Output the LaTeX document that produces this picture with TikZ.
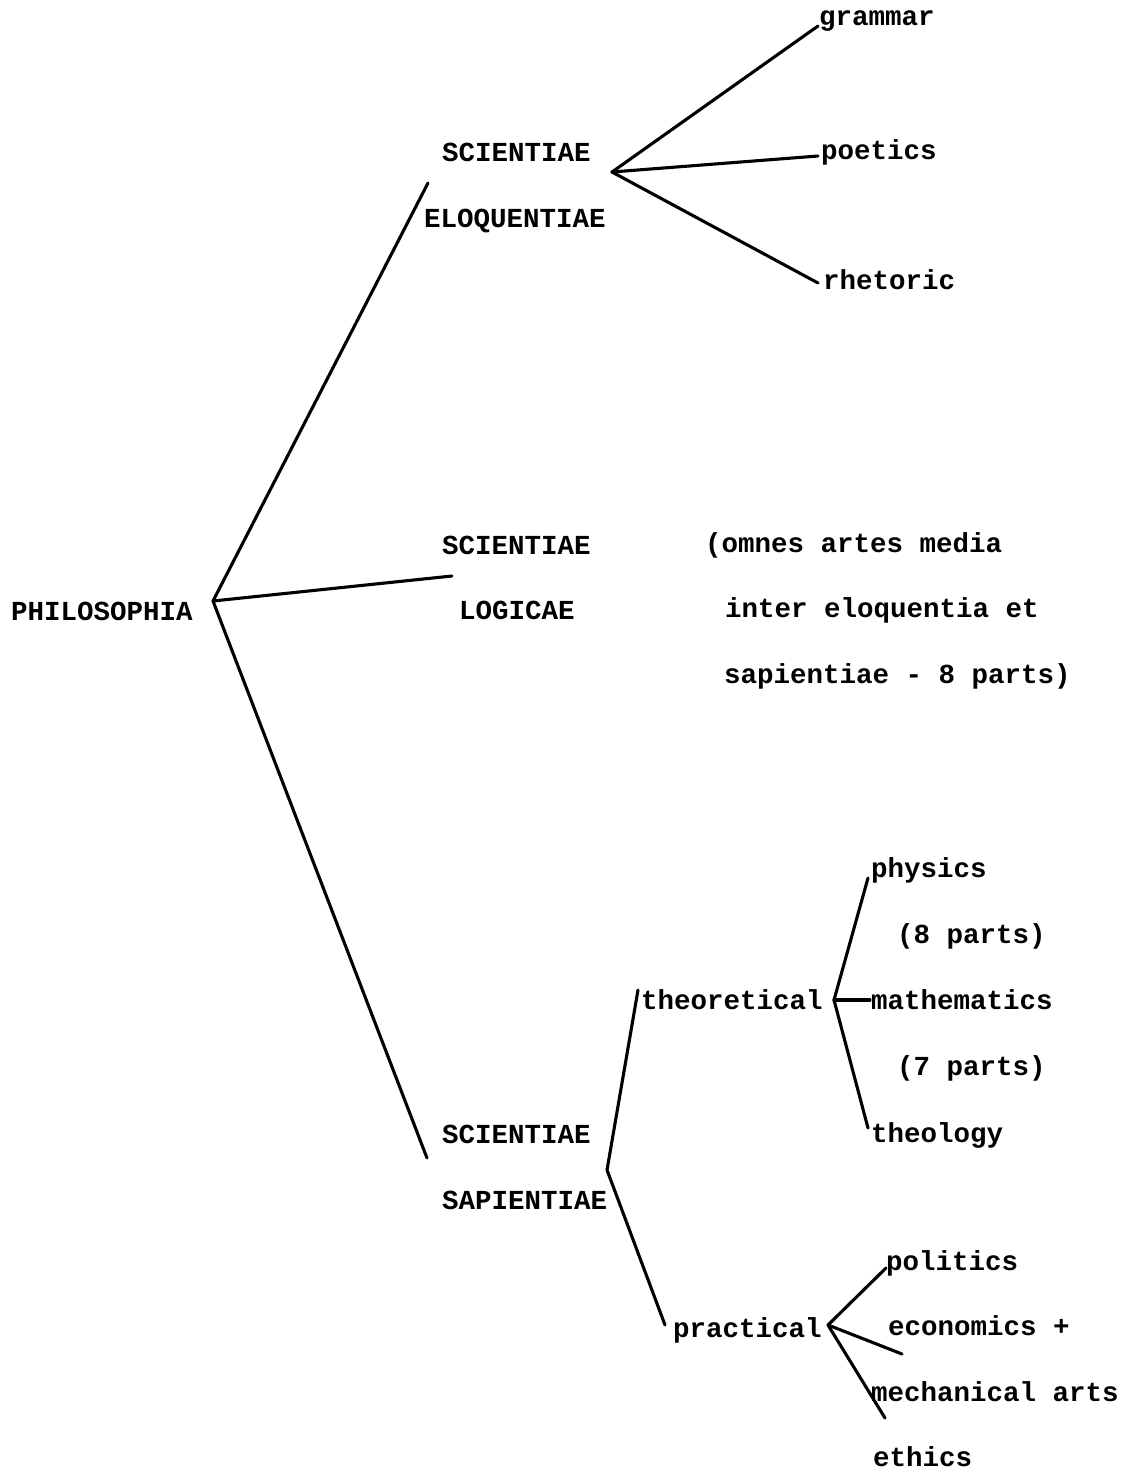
\documentclass[tikz,border=0pt]{standalone}
\usepackage{fontspec}
\setmainfont{Liberation Mono}
\begin{document}
\begin{tikzpicture}[x=1pt,y=-1pt,
  lbl/.style={anchor=base west,inner sep=0pt,font=\fontsize{27.5}{27.5}\selectfont\bfseries},
  branch/.style={line width=3.1pt,line cap=round,line join=round}]
\useasboundingbox[fill=white] (0,0) rectangle (1133,1473);

% root
\node[lbl] (phil) at (11,620) {PHILOSOPHIA};

% scientiae eloquentiae
\node[lbl] (eloqA) at (442,161) {SCIENTIAE};
\node[lbl] (eloqB) at (424,227) {ELOQUENTIAE};
\node[lbl] (gram) at (819,25) {grammar};
\node[lbl] (poet) at (821,159) {poetics};
\node[lbl] (rhet) at (823,289) {rhetoric};

% scientiae logicae
\node[lbl] (logA) at (442,554) {SCIENTIAE};
\node[lbl] (logB) at (459,619) {LOGICAE};
\node[lbl] (omn1) at (705,552) {(omnes artes media};
\node[lbl] (omn2) at (725,617) {inter eloquentia et};
\node[lbl] (omn3) at (724,683) {sapientiae - 8 parts)};

% scientiae sapientiae
\node[lbl] (sapA) at (442,1143) {SCIENTIAE};
\node[lbl] (sapB) at (442,1209) {SAPIENTIAE};
\node[lbl] (theo) at (641,1009) {theoretical};
\node[lbl] (phys) at (871,877) {physics};
\node[lbl] (phys8) at (897,943) {(8 parts)};
\node[lbl] (math) at (871,1009) {mathematics};
\node[lbl] (math7) at (897,1075) {(7 parts)};
\node[lbl] (theol) at (871,1142) {theology};
\node[lbl] (prac) at (673,1337) {practical};
\node[lbl] (pol) at (886,1270) {politics};
\node[lbl] (econ) at (888,1335) {economics +};
\node[lbl] (mech) at (871,1401) {mechanical arts};
\node[lbl] (eth) at (873,1466) {ethics};

% branching points and loose ends
\coordinate (vP) at (213,601);
\coordinate (eEloq) at (428,183);
\coordinate (eLog) at (452,576);
\coordinate (eSap) at (427,1158);
\coordinate (vE) at (612,172);
\coordinate (eGram) at (818,26);
\coordinate (ePoet) at (818,156);
\coordinate (eRhet) at (818,283);
\coordinate (vS) at (607,1170);
\coordinate (eTheo) at (638,990);
\coordinate (ePrac) at (665,1325);
\coordinate (vT) at (834,1000);
\coordinate (ePhys) at (868,878);
\coordinate (eMath) at (870,1000);
\coordinate (eTheol) at (868,1128);
\coordinate (vPr) at (828,1325);
\coordinate (ePol) at (886,1268);
\coordinate (eEcon) at (902,1354);
\coordinate (eEth) at (885,1418);

\draw[branch] (eEloq) -- (vP) -- (eSap);
\draw[branch] (vP) -- (eLog);
\draw[branch] (eGram) -- (vE) -- (eRhet);
\draw[branch] (vE) -- (ePoet);
\draw[branch] (eTheo) -- (vS) -- (ePrac);
\draw[branch] (ePhys) -- (vT) -- (eTheol);
\draw[branch] (vT) -- (eMath);
\draw[branch] (ePol) -- (vPr) -- (eEth);
\draw[branch] (vPr) -- (eEcon);
\end{tikzpicture}
\end{document}
